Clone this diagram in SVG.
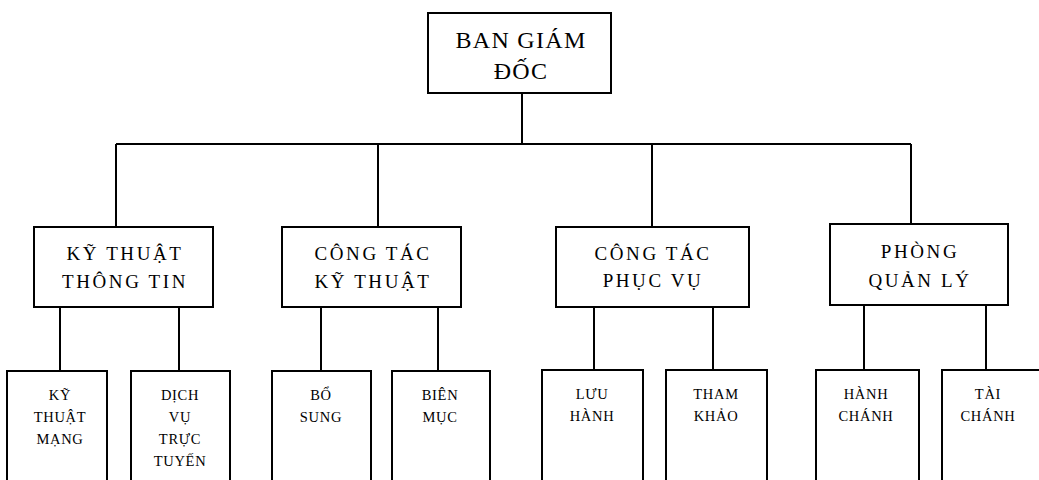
<svg xmlns="http://www.w3.org/2000/svg" width="1039" height="480" viewBox="0 0 1039 480">
<style>
.box{fill:#fff;stroke:#000;stroke-width:2}
.ln{stroke:#000;stroke-width:2;fill:none}
text{font-family:"Liberation Serif","Times New Roman",serif;fill:#000;text-anchor:middle}
.t0{font-size:24px;letter-spacing:1.3px}
.t1{font-size:19px;letter-spacing:2.6px}
.t2{font-size:14.5px;letter-spacing:0.7px}
</style>
<rect width="1039" height="480" fill="#fff"/>
<g id="connectors">
<path class="ln" d="M522 93V144M116 144H911M116 144V227M378 144V227M652 144V227M911 144V224"/>
<path class="ln" d="M60 307V371M179 307V371M321 307V371M438 307V371M594 307V370M713 307V370M864 305V370M986 305V370"/>
</g>
<g id="n0"><rect class="box" x="428" y="13" width="183" height="80"/><text class="t0" x="521" y="48">BAN GIÁM</text><text class="t0" x="521" y="79">ĐỐC</text></g>
<g id="n1"><rect class="box" x="34" y="227" width="179" height="80"/><text class="t1" x="125" y="260">KỸ THUẬT</text><text class="t1" x="125" y="288">THÔNG TIN</text></g>
<g id="n2"><rect class="box" x="282" y="227" width="179" height="80"/><text class="t1" x="373" y="260">CÔNG TÁC</text><text class="t1" x="373" y="288">KỸ THUẬT</text></g>
<g id="n3"><rect class="box" x="556" y="227" width="193" height="80"/><text class="t1" x="653" y="260">CÔNG TÁC</text><text class="t1" x="653" y="287">PHỤC VỤ</text></g>
<g id="n4"><rect class="box" x="830" y="224" width="178" height="81"/><text class="t1" x="920" y="258">PHÒNG</text><text class="t1" x="920" y="287">QUẢN LÝ</text></g>
<g id="n5"><rect class="box" x="7" y="371" width="100" height="115"/><text class="t2" x="60" y="400">KỸ</text><text class="t2" x="60" y="422">THUẬT</text><text class="t2" x="60" y="444">MẠNG</text></g>
<g id="n6"><rect class="box" x="131" y="371" width="99" height="115"/><text class="t2" x="180" y="400">DỊCH</text><text class="t2" x="180" y="422">VỤ</text><text class="t2" x="180" y="444">TRỰC</text><text class="t2" x="180" y="466">TUYẾN</text></g>
<g id="n7"><rect class="box" x="272" y="371" width="99" height="115"/><text class="t2" x="321" y="400">BỔ</text><text class="t2" x="321" y="422">SUNG</text></g>
<g id="n8"><rect class="box" x="392" y="371" width="98" height="115"/><text class="t2" x="440" y="400">BIÊN</text><text class="t2" x="440" y="422">MỤC</text></g>
<g id="n9"><rect class="box" x="542" y="370" width="101" height="116"/><text class="t2" x="592" y="399">LƯU</text><text class="t2" x="592" y="421">HÀNH</text></g>
<g id="n10"><rect class="box" x="666" y="370" width="101" height="116"/><text class="t2" x="716" y="399">THAM</text><text class="t2" x="716" y="421">KHẢO</text></g>
<g id="n11"><rect class="box" x="816" y="370" width="103" height="116"/><text class="t2" x="866" y="399">HÀNH</text><text class="t2" x="866" y="421">CHÁNH</text></g>
<g id="n12"><rect class="box" x="942" y="370" width="100" height="116"/><text class="t2" x="988" y="399">TÀI</text><text class="t2" x="988" y="421">CHÁNH</text></g>
</svg>
